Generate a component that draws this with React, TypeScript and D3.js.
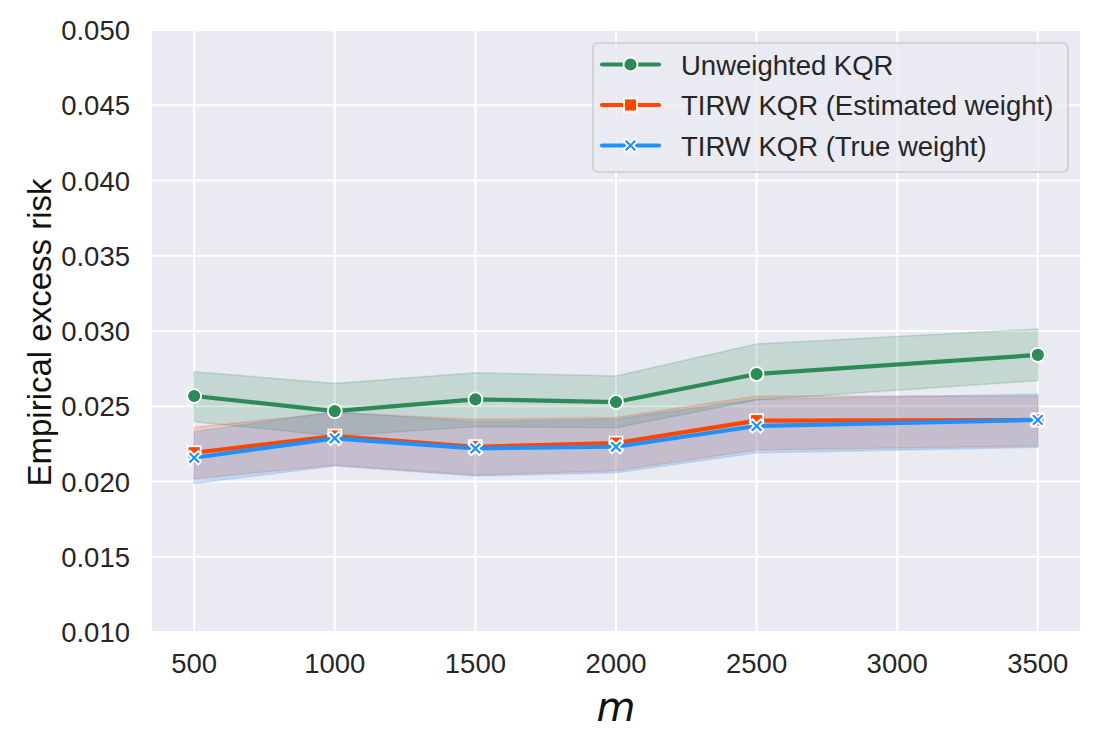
import * as d3 from "d3";

const mValues = [500, 1000, 1500, 2000, 2500, 3500];

const unweighted = [0.02568, 0.02468, 0.02546, 0.02528, 0.02714, 0.02841];
const unweightedLow = [0.02397, 0.02302, 0.02364, 0.02357, 0.02542, 0.0267];
const unweightedHigh = [0.0273, 0.02652, 0.02723, 0.02701, 0.02914, 0.03013];

const estimated = [0.02191, 0.02302, 0.02231, 0.02255, 0.02404, 0.02409];
const estimatedLow = [0.02017, 0.0211, 0.02043, 0.02072, 0.02209, 0.02236];
const estimatedHigh = [0.0236, 0.02457, 0.02413, 0.02426, 0.02568, 0.02568];

const trueWeight = [0.02158, 0.02287, 0.0222, 0.02231, 0.02369, 0.02409];
const trueLow = [0.01988, 0.02103, 0.02037, 0.02058, 0.02191, 0.02227];
const trueHigh = [0.02331, 0.02464, 0.02397, 0.02413, 0.02546, 0.02581];

const xTicks = [500, 1000, 1500, 2000, 2500, 3000, 3500];
const yTicks = [0.01, 0.015, 0.02, 0.025, 0.03, 0.035, 0.04, 0.045, 0.05];

const seriesNames = [
  "Unweighted KQR",
  "TIRW KQR (Estimated weight)",
  "TIRW KQR (True weight)",
];

const W = 1101;
const H = 748;
const plot = { left: 152, right: 1080, top: 30, bottom: 632 };
const tickColor = "#262626";
const font = "'Liberation Sans', Arial, sans-serif";

type Series = {
  name: string;
  color: string;
  marker: "circle" | "square" | "x";
  values: number[];
  low: number[];
  high: number[];
};

const series: Series[] = [
  { name: seriesNames[0], color: "#2e8b57", marker: "circle", values: unweighted, low: unweightedLow, high: unweightedHigh },
  { name: seriesNames[1], color: "#ff4500", marker: "square", values: estimated, low: estimatedLow, high: estimatedHigh },
  { name: seriesNames[2], color: "#1e90ff", marker: "x", values: trueWeight, low: trueLow, high: trueHigh },
];

function Marker({ kind, cx, cy, color }: { kind: string; cx: number; cy: number; color: string }) {
  if (kind === "circle") {
    return <circle cx={cx} cy={cy} r={7} fill={color} stroke="#fff" strokeWidth={1.8} />;
  }
  if (kind === "square") {
    return <rect x={cx - 6.5} y={cy - 6.5} width={13} height={13} fill={color} stroke="#fff" strokeWidth={1.8} />;
  }
  // filled "X" marker
  const a = 6.8;
  const t = 2.8;
  const pts = [
    [-a, -a + t], [-a + t, -a], [0, -t], [a - t, -a], [a, -a + t], [t, 0],
    [a, a - t], [a - t, a], [0, t], [-a + t, a], [-a, a - t], [-t, 0],
  ];
  const d = "M" + pts.map(([px, py]) => `${cx + px},${cy + py}`).join("L") + "Z";
  return <path d={d} fill={color} stroke="#fff" strokeWidth={1.8} strokeLinejoin="miter" />;
}

export default function App() {
  const x = d3.scaleLinear().domain([350, 3650]).range([plot.left, plot.right]);
  const y = d3.scaleLinear().domain([0.01, 0.05]).range([plot.bottom, plot.top]);

  const line = d3
    .line<number>()
    .x((_, i) => x(mValues[i]))
    .y((d) => y(d));

  const band = (s: Series) =>
    d3
      .area<number>()
      .x((_, i) => x(mValues[i]))
      .y0((_, i) => y(s.low[i]))
      .y1((_, i) => y(s.high[i]))(s.values) || "";

  const fmt = d3.format(".3f");

  return (
    <svg width={W} height={H} style={{ position: "absolute", left: 0, top: 0, background: "#fff" }}>
      <rect x={plot.left} y={plot.top} width={plot.right - plot.left} height={plot.bottom - plot.top} fill="#eaeaf2" />
      {xTicks.map((t) => (
        <line key={"gx" + t} x1={x(t)} x2={x(t)} y1={plot.top} y2={plot.bottom} stroke="#fff" strokeWidth={2} />
      ))}
      {yTicks.map((t) => (
        <line key={"gy" + t} x1={plot.left} x2={plot.right} y1={y(t)} y2={y(t)} stroke="#fff" strokeWidth={2} />
      ))}

      {series.map((s) => (
        <path key={"b" + s.name} d={band(s)} fill={s.color} fillOpacity={0.2} stroke={s.color} strokeOpacity={0.2} strokeWidth={1.5} />
      ))}

      {series.map((s) => (
        <g key={"l" + s.name}>
          <path d={line(s.values) || ""} fill="none" stroke={s.color} strokeWidth={4.2} strokeLinejoin="round" strokeLinecap="round" />
          {s.values.map((v, i) => (
            <Marker key={i} kind={s.marker} cx={x(mValues[i])} cy={y(v)} color={s.color} />
          ))}
        </g>
      ))}

      {xTicks.map((t) => (
        <text key={"tx" + t} x={x(t)} y={673} textAnchor="middle" fontSize={27.5} fontFamily={font} fill={tickColor}>
          {t}
        </text>
      ))}
      {yTicks.map((t) => (
        <text key={"ty" + t} x={130} y={y(t) + 10} textAnchor="end" fontSize={27.5} fontFamily={font} fill={tickColor}>
          {fmt(t)}
        </text>
      ))}

      <text
        transform={`translate(51,${(178 + 487) / 2}) rotate(-90)`}
        textAnchor="middle"
        fontSize={33}
        fontFamily={font}
        fill="#111"
      >
        Empirical excess risk
      </text>
      <text x={(plot.left + plot.right) / 2} y={721} textAnchor="middle" fontSize={40} fontStyle="italic" fontFamily="'DejaVu Sans', sans-serif" fill="#111">
        m
      </text>

      <g>
        <rect x={593} y={43} width={475} height={129} rx={5} fill="#eaeaf2" fillOpacity={0.8} stroke="#cccccc" strokeWidth={1.5} />
        {series.map((s, i) => {
          const cy = 64.5 + i * 40.5;
          return (
            <g key={"lg" + s.name}>
              <line x1={602} x2={659} y1={cy} y2={cy} stroke={s.color} strokeWidth={4.2} strokeLinecap="round" />
              <Marker kind={s.marker} cx={630.5} cy={cy} color={s.color} />
              <text x={681} y={cy + 10} fontSize={27.5} fontFamily={font} fill={tickColor}>
                {s.name}
              </text>
            </g>
          );
        })}
      </g>
    </svg>
  );
}
